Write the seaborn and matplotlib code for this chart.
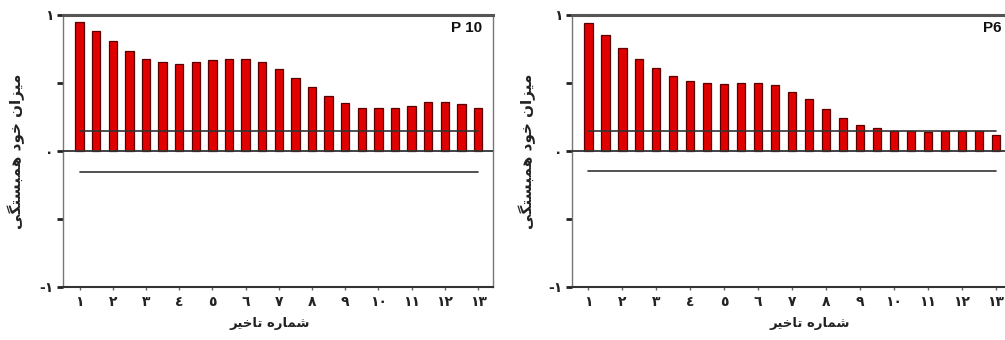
import matplotlib
matplotlib.use("Agg")
import matplotlib.pyplot as plt
import seaborn as sns
import pandas as pd

# ---------------- data ----------------
lags = list(range(1, 26))
p10_acf = [0.95, 0.885, 0.81, 0.735, 0.68, 0.652, 0.64, 0.652, 0.667, 0.674,
           0.674, 0.652, 0.60, 0.54, 0.468, 0.407, 0.355, 0.314, 0.314, 0.314,
           0.33, 0.358, 0.363, 0.348, 0.314]
p6_acf = [0.94, 0.856, 0.76, 0.68, 0.61, 0.554, 0.517, 0.50, 0.493, 0.50,
          0.502, 0.488, 0.432, 0.38, 0.312, 0.246, 0.188, 0.168, 0.146, 0.146,
          0.139, 0.144, 0.149, 0.144, 0.12]
p10_conf = [0.147, -0.154]
p6_conf = [0.146, -0.149]
x_tick_labels = ['۱', '۲', '۳', '٤', '٥', '٦', '۷', '۸', '۹', '۱٠', '۱۱', '۱۲', '۱۳']
y_ticks = [-1, -0.5, 0, 0.5, 1]
y_tick_labels = ['-۱', '', '٠', '', '۱']
titles = ['P 10', 'P6']
# Persian labels (presentation forms, visual order)
ylabel_text = 'ﻰﮕﺘﺴﺒﻤﻫ ﺩﻮﺧ ﻥﺍﺰﻴﻣ'   # میزان خود همبستگی
xlabel_text = 'ﺮﻴﺧﺎﺗ ﻩﺭﺎﻤﺷ'          # شماره تاخیر

sns.set_style("white")
plt.rcParams['font.family'] = ['DejaVu Sans']

fig = plt.figure(figsize=(10.05, 3.4), dpi=100)
ax1 = fig.add_axes([63/1005, 53/340, 430/1005, 272/340])
ax2 = fig.add_axes([572/1005, 53/340, 440/1005, 272/340])

panels = [(ax1, p10_acf, p10_conf, titles[0], 0.48, -0.088, (0.0, 25.9)),
          (ax2, p6_acf, p6_conf, titles[1], 0.54, -0.082, (0.04, 25.95))]

for ax, vals, conf, title, xl_x, yl_x, xlim in panels:
    df = pd.DataFrame({"lag": lags, "acf": vals})
    sns.barplot(data=df, x="lag", y="acf", native_scale=True, width=0.5,
                color="#e00000", edgecolor="#5a0000", linewidth=0.9,
                saturation=1, ax=ax, zorder=2)
    ax.axhline(0, color="#333333", lw=1.3, zorder=3)
    ax.plot([lags[0], lags[-1]], [conf[0], conf[0]], color="#333333", lw=1.2, zorder=4)
    ax.plot([lags[0], lags[-1]], [conf[1], conf[1]], color="#333333", lw=1.2, zorder=4)
    ax.set_xlim(*xlim)
    ax.set_ylim(-1, 1)
    ax.set_xticks(lags[::2])
    ax.set_xticklabels(x_tick_labels, fontsize=10, fontweight='bold', color="#222222")
    ax.set_yticks(y_ticks)
    ax.set_yticklabels(y_tick_labels, fontsize=10, fontweight='bold', color="#222222")
    ax.tick_params(axis='y', direction='out', length=4, width=2, color="#222222", pad=3, left=True)
    ax.tick_params(axis='x', direction='out', length=2, width=1, color="#666666", pad=4, bottom=True)
    for side in ['left', 'right']:
        ax.spines[side].set_color("#777777")
        ax.spines[side].set_linewidth(1.0)
    ax.spines['top'].set_color("#555555")
    ax.spines['top'].set_linewidth(2.2)
    ax.spines['bottom'].set_color("#333333")
    ax.spines['bottom'].set_linewidth(1.5)
    ax.set_xlabel(xlabel_text, fontsize=9.5, fontweight='bold', color="#222222")
    ax.set_ylabel(ylabel_text, fontsize=11, fontweight='bold', color="#222222")
    ax.xaxis.set_label_coords(xl_x, -0.11)
    ax.yaxis.set_label_coords(yl_x, 0.5)
    ax.text(0.975, 0.952, title, transform=ax.transAxes, ha='right', va='center',
            fontsize=11, fontweight='bold', family='Liberation Sans', color="#111111")

fig.savefig("out.png", dpi=100, facecolor="white")
